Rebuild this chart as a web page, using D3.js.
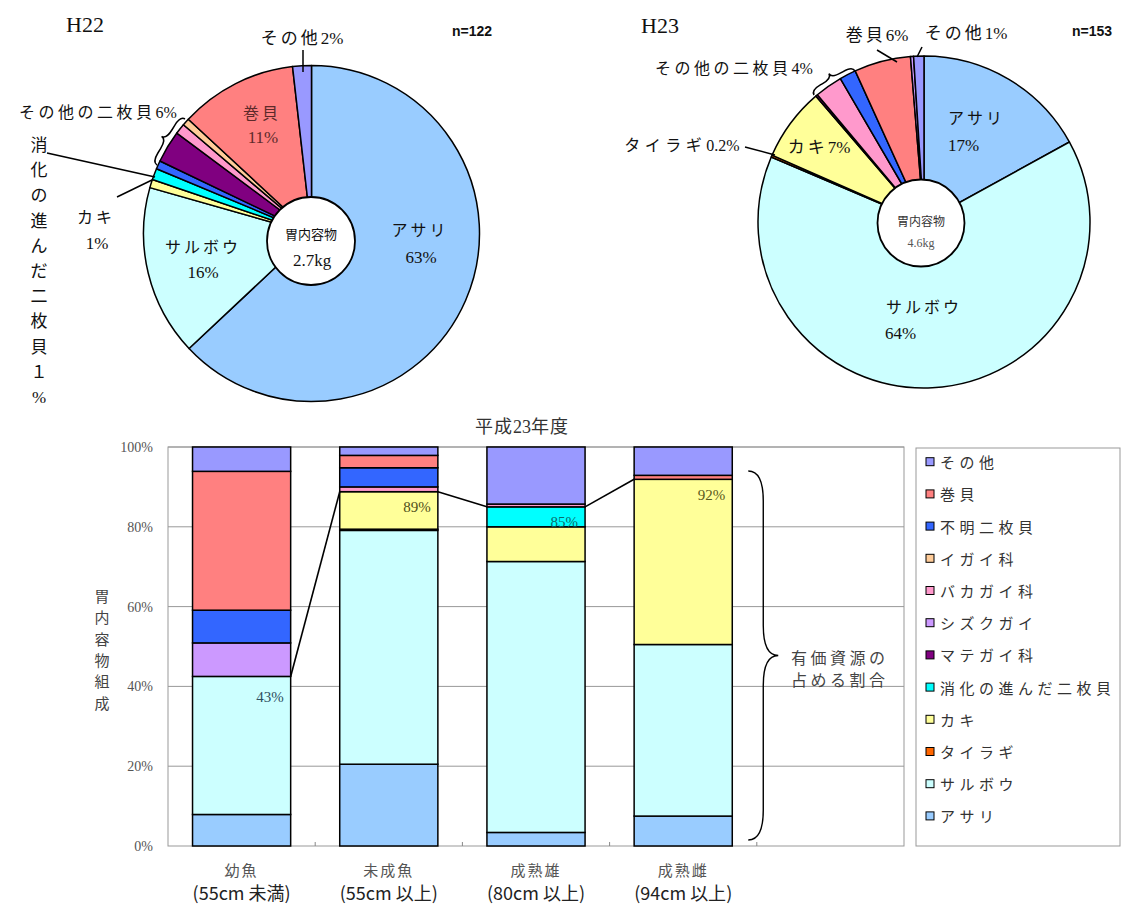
<!DOCTYPE html>
<html>
<head>
<meta charset="utf-8">
<script src="https://cdn.jsdelivr.net/npm/d3@7"></script>
<style>
  body { margin: 0; background: #fff; }
  svg { display: block; }
</style>
</head>
<body>
<div id="vis"></div>
<script>
// items in stacking order (bottom -> top), with their colours
const items = ["アサリ", "サルボウ", "タイラギ", "カキ", "消化の進んだ二枚貝", "マテガイ科",
  "シズクガイ", "バカガイ科", "イガイ科", "不明二枚貝", "巻貝", "その他"];
const itemColors = ["#99ccff", "#ccffff", "#ff6600", "#ffff99", "#00ffff", "#800080",
  "#cc99ff", "#ff99cc", "#ffcc99", "#3366ff", "#ff8080", "#9999ff"];

// H22 pie, clockwise from 12 o'clock (%)
const h22Items = ["アサリ", "サルボウ", "カキ", "消化の進んだ二枚貝", "不明二枚貝", "マテガイ科", "バカガイ科", "イガイ科", "巻貝", "その他"];
const h22Values = [63.0, 16.4, 0.8, 1.1, 0.8, 3.1, 1.0, 0.7, 11.3, 1.8];

// H23 pie, clockwise from 12 o'clock (%)
const h23Items = ["アサリ", "サルボウ", "タイラギ", "カキ", "マテガイ科", "バカガイ科", "不明二枚貝", "巻貝", "シズクガイ", "その他"];
const h23Values = [17.0, 64.4, 0.2, 7.1, 0.2, 2.7, 1.6, 5.5, 0.3, 1.0];

// stacked bars (平成23年度), one array per group, values in items order (%)
const groups = ["幼魚", "未成魚", "成熟雄", "成熟雌"];
const groupSizes = ["(55cm 未満)", "(55cm 以上)", "(80cm 以上)", "(94cm 以上)"];
const youngFish    = [7.9, 34.6, 0, 0,    0,   0, 8.4, 0,   0, 8.2, 34.8, 6.1];
const immature     = [20.5, 58.6, 0.3, 9.4, 0,  0, 0,   1.2, 0, 4.8, 3.1, 2.1];
const matureMale   = [3.4, 67.9, 0, 8.7,  5.0, 0, 0,   0.7, 0, 0,   0,   14.3];
const matureFemale = [7.5, 43.0, 0, 41.4, 0,   0, 0,   0,   0, 0,   1.0, 7.1];
const shareLabels = ["43%", "89%", "85%", "92%"];
const yTicks = [0, 20, 40, 60, 80, 100];

const W = 1130, H = 904;
const svg = d3.select("#vis").append("svg")
  .attr("width", W).attr("height", H)
  .style("background", "#fff");

const serifJP = "'Liberation Serif','Noto Sans CJK JP',serif";
const sansJP = "'Noto Sans CJK JP',sans-serif";
const color = d3.scaleOrdinal().domain(items).range(itemColors);

// text label; spacing only applied to the wide (CJK) runs, ascii runs stay tight
function label(x, y, txt, o = {}) {
  const ls = o.ls ?? 3;
  const t = svg.append("text")
    .attr("x", x).attr("y", y)
    .attr("text-anchor", o.anchor || "middle")
    .attr("dominant-baseline", "central")
    .style("font-family", o.font || serifJP)
    .style("font-size", (o.size || 16) + "px")
    .style("font-weight", o.weight || "normal")
    .attr("fill", o.fill || "#111");
  const runs = txt.match(/[\x20-\x7e]+|[^\x20-\x7e]+/g) || [];
  runs.forEach(r => {
    const ascii = /^[\x20-\x7e]+$/.test(r);
    t.append("tspan").style("letter-spacing", (ascii ? 0 : ls) + "px").text(r);
  });
  return t;
}

function vertical(x, y0, step, txt, o = {}) {
  Array.from(txt).forEach((c, i) => label(x, y0 + i * step, c, Object.assign({ ls: 0 }, o)));
}

function line(x1, y1, x2, y2, w = 1.5) {
  svg.append("line").attr("x1", x1).attr("y1", y1).attr("x2", x2).attr("y2", y2)
    .attr("stroke", "#000").attr("stroke-width", w);
}

// curly brace between two points, tip pointing to the left of p1->p2
function brace(p1, p2, d, w = 1.5) {
  const L = Math.hypot(p2[0] - p1[0], p2[1] - p1[1]);
  const a = Math.atan2(p2[1] - p1[1], p2[0] - p1[0]) * 180 / Math.PI;
  const r = Math.min(d, L / 4), h = d / 2;
  const p = `M0,0 Q0,${-h} ${r},${-h} L${L / 2 - r},${-h} Q${L / 2},${-h} ${L / 2},${-d}` +
    ` Q${L / 2},${-h} ${L / 2 + r},${-h} L${L - r},${-h} Q${L},${-h} ${L},0`;
  svg.append("path").attr("d", p)
    .attr("transform", `translate(${p1[0]},${p1[1]}) rotate(${a})`)
    .attr("fill", "none").attr("stroke", "#000").attr("stroke-width", w);
}

function drawPie(cx, cy, r, names, values, hole) {
  const g = svg.append("g").attr("transform", `translate(${cx},${cy})`);
  const arcs = d3.pie().sort(null).value(d => d.v)(names.map((n, i) => ({ n, v: values[i] })));
  g.selectAll("path").data(arcs).join("path")
    .attr("d", d3.arc().innerRadius(0).outerRadius(r))
    .attr("fill", d => color(d.data.n))
    .attr("stroke", "#000").attr("stroke-width", 1.5)
    .attr("stroke-linejoin", "round");
  g.append("circle")
    .attr("cx", hole.dx).attr("cy", hole.dy).attr("r", hole.r)
    .attr("fill", "#fff").attr("stroke", "#000").attr("stroke-width", 1.8);
}

const num = { ls: 0, size: 17 };

// ---------- H22 pie ----------
drawPie(311.5, 233.5, 168, h22Items, h22Values, { dx: -0.5, dy: 7.5, r: 44 });
label(85, 24, "H22", { size: 22, ls: 0, font: "'Liberation Serif',serif" });
label(472, 31, "n=122", { size: 14, ls: 0, weight: "bold", font: "'Liberation Sans',sans-serif" });
label(302, 38, "その他2%", { size: 17 });
line(303, 50, 303, 72);
label(262, 113, "巻貝", { fill: "#5c2a2a" });
label(263, 137, "11%", Object.assign({ fill: "#5c2a2a" }, num));
label(98, 112, "その他の二枚貝6%", { size: 16, ls: 3.5 });
brace([157, 165], [185, 119], 11);
vertical(39, 145, 25.2, "消化の進んだ二枚貝１%", { size: 17 });
line(47, 153, 155, 177);
label(96, 217, "カキ");
label(97, 243, "1%", num);
line(117, 197, 152, 180);
label(203, 247, "サルボウ");
label(203, 272, "16%", num);
label(420, 230, "アサリ");
label(421, 257, "63%", num);
label(311, 233, "胃内容物", { size: 13, ls: 0, font: sansJP });
label(312, 260, "2.7kg", { size: 17, ls: 0 });

// ---------- H23 pie ----------
drawPie(924, 222, 166, h23Items, h23Values, { dx: -3, dy: 1, r: 43.5 });
label(660, 25, "H23", { size: 22, ls: 0, font: "'Liberation Serif',serif" });
label(1092, 31, "n=153", { size: 14, ls: 0, weight: "bold", font: "'Liberation Sans',sans-serif" });
label(877, 35, "巻貝6%", { size: 17 });
line(877, 50, 897, 62);
label(966, 33, "その他1%", { size: 17 });
line(922, 47, 917, 57);
label(734, 68, "その他の二枚貝4%", { size: 16, ls: 3.5 });
brace([814, 95], [855, 71], 11);
label(682, 145, "タイラギ0.2%", { size: 16, ls: 4.5 });
line(745, 147, 775, 155);
label(819, 147, "カキ7%", { size: 17 });
label(948, 118, "アサリ", { anchor: "start" });
label(948, 145, "17%", Object.assign({ anchor: "start" }, num));
label(886, 307, "サルボウ", { anchor: "start" });
label(885, 333, "64%", Object.assign({ anchor: "start" }, num));
label(921, 220, "胃内容物", { size: 12, ls: 0, font: sansJP, fill: "#333" });
label(921, 243, "4.6kg", { size: 12, ls: 0, fill: "#555" });

// ---------- stacked bar chart ----------
const plot = { left: 168, right: 904, top: 447, bottom: 846 };
const table = [youngFish, immature, matureMale, matureFemale].map((vals, i) => {
  const row = { group: groups[i] };
  items.forEach((k, j) => row[k] = vals[j]);
  return row;
});
const series = d3.stack().keys(items)(table);

const x = d3.scaleBand()
  .domain([...groups, "_"])
  .range([plot.left, plot.right])
  .paddingInner(1 / 3).paddingOuter(1 / 6);
const y = d3.scaleLinear().domain([0, 100]).range([plot.bottom, plot.top]);

// grid + frame
svg.append("g").selectAll("line").data(yTicks.slice(1)).join("line")
  .attr("x1", plot.left).attr("x2", plot.right)
  .attr("y1", d => y(d)).attr("y2", d => y(d))
  .attr("stroke", "#999").attr("stroke-width", 1);
svg.append("rect")
  .attr("x", plot.left).attr("y", plot.top)
  .attr("width", plot.right - plot.left).attr("height", plot.bottom - plot.top)
  .attr("fill", "none").attr("stroke", "#999").attr("stroke-width", 1);

// y axis labels
svg.append("g")
  .attr("transform", `translate(${plot.left},0)`)
  .call(d3.axisLeft(y).tickValues(yTicks).tickSize(0).tickPadding(15).tickFormat(d => d + "%"))
  .call(g => g.select(".domain").remove())
  .selectAll("text")
  .style("font-family", "'Liberation Serif',serif").style("font-size", "14px").attr("fill", "#555");

// category boundary ticks
const step = x.step();
svg.append("g").selectAll("line").data(d3.range(1, 5)).join("line")
  .attr("x1", d => plot.left + d * step).attr("x2", d => plot.left + d * step)
  .attr("y1", plot.bottom).attr("y2", plot.bottom - 4)
  .attr("stroke", "#888");

// bars
svg.append("g").selectAll("g").data(series).join("g")
  .attr("fill", d => color(d.key))
  .selectAll("rect").data(d => d.filter(s => s[1] - s[0] > 0)).join("rect")
  .attr("x", d => x(d.data.group))
  .attr("y", d => y(d[1]))
  .attr("width", x.bandwidth())
  .attr("height", d => y(d[0]) - y(d[1]))
  .attr("stroke", "#000").attr("stroke-width", 1.5);

// valuable-resource share lines (top of the 消化の進んだ二枚貝 layer)
const shareLayer = series[items.indexOf("消化の進んだ二枚貝")];
const shareTop = shareLayer.map(s => s[1]);
for (let i = 0; i < groups.length - 1; i++) {
  line(x(groups[i]) + x.bandwidth(), y(shareTop[i]), x(groups[i + 1]), y(shareTop[i + 1]), 1.6);
}
const shareDy = [26, 20, 20, 21];
const shareFill = ["#2f4f5f", "#50501a", "#0b6b6b", "#5a5a20"];
shareLabels.forEach((t, i) => {
  label(x(groups[i]) + x.bandwidth() - 7, y(shareTop[i]) + shareDy[i] - 5, t,
    { anchor: "end", ls: 0, size: 15, fill: shareFill[i], font: "'Liberation Serif',serif" });
});

// brace + note on the right of the last bar
const bx = x(groups[3]) + x.bandwidth() + 16;
brace([bx, y(94)], [bx, y(1.5)], 30, 1.4);
label(791, 658, "有価資源の", { anchor: "start", size: 16, ls: 3.5, fill: "#444" });
label(791, 680, "占める割合", { anchor: "start", size: 16, ls: 3.5, fill: "#444" });

// title and axis titles
label(522, 427, "平成23年度", { size: 18, ls: 1, fill: "#333" });
vertical(102, 595, 21.3, "胃内容物組成", { size: 15, font: sansJP, fill: "#444" });
groups.forEach((gname, i) => {
  const cx = x(gname) + x.bandwidth() / 2;
  label(cx, 869, gname, { size: 15, ls: 2, fill: "#555", font: sansJP });
  label(cx, 892, groupSizes[i], { size: 18, ls: 0, fill: "#222", font: sansJP });
});

// legend
const legend = { x: 916, y: 448, w: 204, h: 398 };
svg.append("rect")
  .attr("x", legend.x).attr("y", legend.y).attr("width", legend.w).attr("height", legend.h)
  .attr("fill", "#fff").attr("stroke", "#999");
const legendItems = items.slice().reverse();
const lg = svg.append("g").selectAll("g").data(legendItems).join("g")
  .attr("transform", (d, i) => `translate(${legend.x + 10},${461.7 + i * 32.2})`);
lg.append("rect")
  .attr("x", 0).attr("y", -4).attr("width", 8).attr("height", 8)
  .attr("fill", d => color(d)).attr("stroke", "#000").attr("stroke-width", 1);
lg.append("text")
  .attr("x", 14).attr("y", 0).attr("dominant-baseline", "central")
  .style("font-family", sansJP).style("font-size", "15px").style("letter-spacing", "4.5px")
  .attr("fill", "#333")
  .text(d => d);
</script>
</body>
</html>
